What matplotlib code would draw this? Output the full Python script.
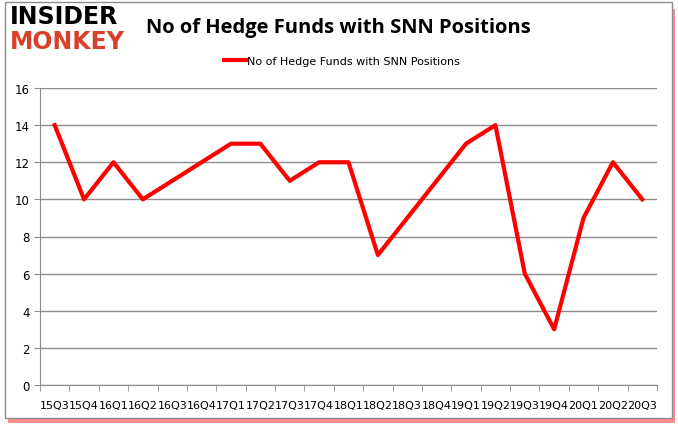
import matplotlib.pyplot as plt
import numpy as np
from matplotlib.patches import Rectangle

quarters = ['15Q3', '15Q4', '16Q1', '16Q2', '16Q3', '16Q4', '17Q1', '17Q2', '17Q3', '17Q4', '18Q1',
            '18Q2', '18Q3', '18Q4', '19Q1', '19Q2', '19Q3', '19Q4', '20Q1', '20Q2', '20Q3']
funds = [14, 10, 12, 10, 11, 12, 13, 13, 11, 12, 12, 7, 9, 11, 13, 14, 6, 3, 9, 12, 10]
series_name = 'No of Hedge Funds with SNN Positions'

fig = plt.figure(figsize=(6.78, 4.31), dpi=100)

# frame with red shadow, like the original picture
fig.patches.append(Rectangle((8 / 678, 7 / 431), 667 / 678, 414 / 431, transform=fig.transFigure,
                             facecolor='#ff4040', edgecolor='none', alpha=0.6, zorder=-2))
fig.patches.append(Rectangle((5 / 678, 12 / 431), 667 / 678, 416 / 431, transform=fig.transFigure,
                             facecolor='white', edgecolor='#8c8c8c', lw=1, zorder=-1))

ax = fig.add_axes([40 / 678, 45 / 431, 617 / 678, 297 / 431])
ax.set_zorder(2)
ax.set_facecolor('none')
x = np.arange(len(quarters))
ax.plot(x, funds, color='#ff0000', lw=3, label=series_name, zorder=3)

ax.set_xlim(-0.5, len(quarters) - 0.5)
ax.set_ylim(0, 16)
ax.set_yticks(range(0, 17, 2))
ax.yaxis.grid(True, color='#8c8c8c', lw=1)
ax.set_axisbelow(True)
ax.set_xticks(x)
ax.set_xticklabels(quarters, fontsize=8)
ax.set_xticks(np.arange(-0.5, len(quarters), 1), minor=True)
ax.tick_params(axis='x', which='major', length=0, pad=11)
ax.tick_params(axis='x', which='minor', length=4, color='#8c8c8c')
ax.tick_params(axis='y', length=4, color='#8c8c8c', labelsize=8.5)
for s in ['top', 'right']:
    ax.spines[s].set_visible(False)
ax.spines['left'].set_color('#8c8c8c')
ax.spines['bottom'].set_color('#8c8c8c')

fig.text(338 / 678, 1 - 28 / 431, 'No of Hedge Funds with SNN Positions', ha='center', va='center',
         fontsize=14.5, fontweight='bold', family='Open Sans')
ax.legend(loc='center', bbox_to_anchor=(302 / 617, (431 - 62 - 45) / 297), frameon=False,
          fontsize=8, handlelength=2, handletextpad=0.1)

fig.text(10 / 678, 1 - 17 / 431, 'INSIDER', ha='left', va='center', fontsize=17,
         fontweight='black', family='DejaVu Sans', color='black')
fig.text(10 / 678, 1 - 42 / 431, 'MONKEY', ha='left', va='center', fontsize=17,
         fontweight='black', family='DejaVu Sans', color='#d9402b')

fig.savefig('out.png', dpi=100)
